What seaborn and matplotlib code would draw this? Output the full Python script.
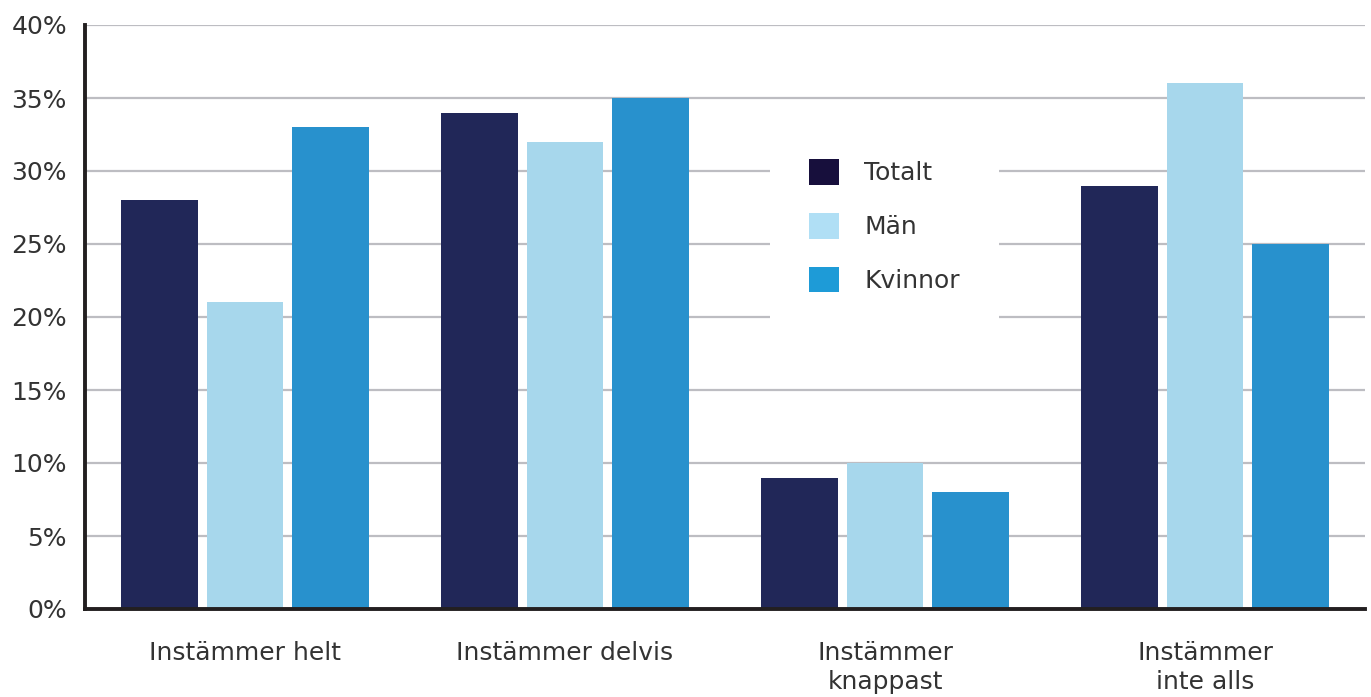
import pandas as pd
import seaborn as sns
import matplotlib.pyplot as plt
from matplotlib.patches import Patch
from matplotlib.ticker import FuncFormatter

# data (percent)
categories = ['Instämmer helt', 'Instämmer delvis', 'Instämmer\nknappast', 'Instämmer\ninte alls']
groups = ['Totalt', 'Män', 'Kvinnor']
totalt = [28, 34, 9, 29]
man = [21, 32, 10, 36]
kvinnor = [33, 35, 8, 25]

bar_colors = ['#212758', '#a7d7ec', '#2891cd']
legend_colors = ['#170f3c', '#b0dff5', '#1e9bd7']

df = pd.DataFrame({
    'Kategori': categories * 3,
    'Grupp': [g for g in groups for _ in categories],
    'Andel': totalt + man + kvinnor,
})

sns.set_theme(style='white')
plt.rcParams['font.family'] = ['DejaVu Sans']
text_color = '#333333'
fs = 18

fig = plt.figure(figsize=(13.71, 6.97), dpi=100)
ax = fig.add_axes([85 / 1371, 88 / 697, 1280 / 1371, 584 / 697])

sns.barplot(data=df, x='Kategori', y='Andel', hue='Grupp', order=categories,
            hue_order=groups, palette=bar_colors, width=0.8, gap=0.1,
            saturation=1, errorbar=None, legend=False, ax=ax, zorder=3,
            edgecolor='none', linewidth=0)

ax.set_xlim(-0.5, 3.5)
ax.set_ylim(0, 40)
ax.set_yticks(range(0, 41, 5))
ax.yaxis.set_major_formatter(FuncFormatter(lambda v, p: f'{int(v)}%'))
ax.grid(axis='y', color='#bdbdc2', lw=1.6, zorder=0)
ax.set_axisbelow(True)
ax.set_xlabel('')
ax.set_ylabel('')

for s in ['top', 'right']:
    ax.spines[s].set_visible(False)
for s in ['left', 'bottom']:
    ax.spines[s].set_color('#231f20')
    ax.spines[s].set_linewidth(2.8)
    ax.spines[s].set_zorder(5)

ax.tick_params(axis='y', length=0, pad=13, labelsize=fs, labelcolor=text_color)
ax.tick_params(axis='x', length=0, pad=23, labelsize=fs, labelcolor=text_color)
for lab in ax.get_xticklabels():
    lab.set_linespacing(1.25)
    lab.set_verticalalignment('top')

handles = [Patch(facecolor=c, edgecolor='none') for c in legend_colors]
leg = ax.legend(handles, groups, loc='upper left',
                bbox_to_anchor=(770 / 1371, 1 - 120 / 697),
                bbox_transform=fig.transFigure, borderaxespad=0,
                borderpad=1.55, fontsize=fs, handlelength=1.22, handleheight=1.22,
                handletextpad=1.0, labelspacing=1.1, frameon=True,
                fancybox=False, framealpha=1)
leg.get_frame().set_facecolor('white')
leg.get_frame().set_edgecolor('none')
leg.set_zorder(4)
for t in leg.get_texts():
    t.set_color(text_color)

fig.savefig('out.png', dpi=100)
